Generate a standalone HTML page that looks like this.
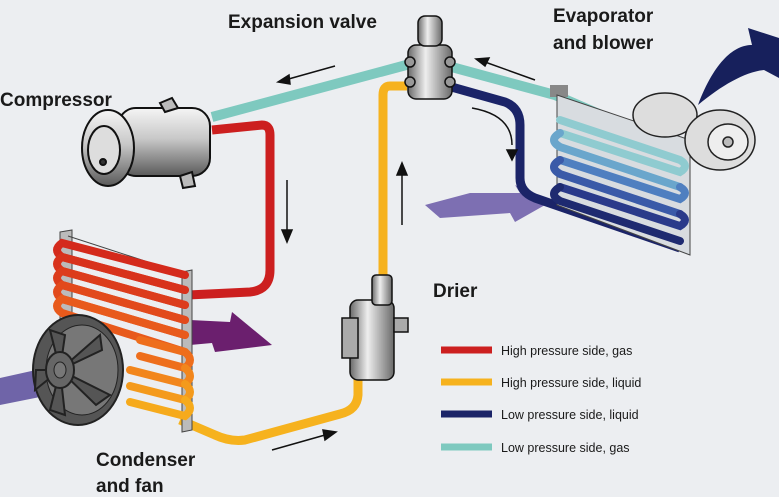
<!DOCTYPE html>
<html><head><meta charset="utf-8"><style>
html,body{margin:0;padding:0;background:#eceef1;}
svg{display:block}
text{font-family:"Liberation Sans",sans-serif;font-weight:bold;fill:#1a1a1a}
</style></head><body>
<svg width="779" height="497" viewBox="0 0 779 497" xmlns="http://www.w3.org/2000/svg">
<defs>
<linearGradient id="metal" x1="0" y1="0" x2="0" y2="1">
<stop offset="0" stop-color="#f5f5f5"/><stop offset=".45" stop-color="#c8c8c8"/><stop offset="1" stop-color="#5a5a5a"/></linearGradient>
<linearGradient id="metalh" x1="0" y1="0" x2="1" y2="0">
<stop offset="0" stop-color="#6a6a6a"/><stop offset=".4" stop-color="#eeeeee"/><stop offset="1" stop-color="#6a6a6a"/></linearGradient>
</defs>
<rect width="779" height="497" fill="#eceef1"/>

<polygon points="425,205 470,193 520,193 515,185 545,205 515,222 510,213 440,218" fill="#7d6fb2"/>
<polygon points="190,320 230,322 232,312 272,345 215,352 212,343 190,345" fill="#6b1f6e"/>
<polygon points="0,378 45,368 50,395 0,405" fill="#6f64a8"/>
<path d="M698,105 C715,60 735,45 752,45 L748,28 L779,38 L779,78 L764,70 C745,72 722,85 698,105 Z" fill="#17205c"/>

<path d="M212,117 L410,64" stroke="#7ec9bf" stroke-width="10" fill="none"/>
<path d="M448,66 L555,95 L682,150" stroke="#7ec9bf" stroke-width="10" fill="none"/>
<path d="M212,130 L262,125 Q270,125 270,135 L270,270 Q270,290 250,292 L188,295" stroke="#cc1f1f" stroke-width="9" fill="none"/>
<path d="M407,86 L390,86 Q383,86 383,95 L383,280" stroke="#f6b21e" stroke-width="9" fill="none"/>
<path d="M358,368 L358,395 Q357,410 340,414 L245,440 Q230,442 215,435 L180,420" stroke="#f6b21e" stroke-width="9" fill="none"/>
<path d="M448,86 L505,102 Q520,108 520,125 L520,178 Q520,192 535,198 L680,248" stroke="#1b2468" stroke-width="9" fill="none"/>

<g>
<polygon points="60,232 72,230 72,392 60,394" fill="#bbb" stroke="#444" stroke-width="1"/>
<polygon points="182,272 192,270 192,430 182,432" fill="#bbb" stroke="#444" stroke-width="1"/>
<line x1="68" y1="236" x2="188" y2="275" stroke="#444"/>
<g fill="none" stroke-width="8" stroke-linecap="round">
<path d="M185,275 L62,243 Q52,250 62,257 L185,290" stroke="#d42a1c"/>
<path d="M185,290 L62,257 Q52,264 62,271 L185,305" stroke="#d8321c"/>
<path d="M185,305 L62,271 Q52,278 62,285 L185,320" stroke="#dc3c1c"/>
<path d="M185,320 L62,285 Q52,292 62,299 L185,335" stroke="#e24a1c"/>
<path d="M185,335 L62,299 Q52,306 62,313 L185,352" stroke="#e85a1c"/>
<path d="M185,352 L140,340 M185,352 Q195,360 185,368 L140,356" stroke="#ee6e1c"/>
<path d="M185,368 Q195,376 185,384 L130,370" stroke="#f2861c"/>
<path d="M185,384 Q195,392 185,400 L130,386" stroke="#f49a1c"/>
<path d="M185,400 Q195,408 185,416 L130,402" stroke="#f6aa1c"/>
</g>
<ellipse cx="78" cy="370" rx="45" ry="55" fill="#555" stroke="#222" stroke-width="2"/>
<ellipse cx="82" cy="370" rx="36" ry="45" fill="#777" stroke="#222"/>
<g stroke="#222" stroke-width="2" fill="#555">
<path d="M60,370 L50,330 L65,335 Z"/><path d="M60,370 L100,335 L102,350 Z"/><path d="M60,370 L110,395 L96,405 Z"/><path d="M60,370 L65,415 L50,410 Z"/><path d="M60,370 L35,390 L36,370 Z"/>
</g>
<ellipse cx="60" cy="370" rx="14" ry="18" fill="#666" stroke="#222" stroke-width="2"/>
<ellipse cx="60" cy="370" rx="6" ry="8" fill="#777" stroke="#222"/>
</g>

<g stroke="#111" stroke-width="2">
<rect x="118" y="108" width="92" height="68" rx="18" fill="url(#metal)"/>
<path d="M160,103 L172,98 L178,108 L165,112 Z" fill="#bbb"/>
<path d="M180,176 L192,172 L195,186 L183,188 Z" fill="#bbb"/>
<ellipse cx="108" cy="148" rx="26" ry="38" fill="url(#metal)"/>
<ellipse cx="104" cy="150" rx="16" ry="24" fill="#ddd"/>
<circle cx="103" cy="162" r="3" fill="#333"/>
</g>

<g stroke="#111" stroke-width="1.5">
<rect x="408" y="45" width="44" height="54" rx="8" fill="url(#metalh)"/>
<rect x="418" y="16" width="24" height="30" rx="7" fill="url(#metalh)"/>
<circle cx="410" cy="62" r="5" fill="#999"/><circle cx="450" cy="62" r="5" fill="#999"/>
<circle cx="410" cy="82" r="5" fill="#999"/><circle cx="450" cy="82" r="5" fill="#999"/>
</g>

<g stroke="#111" stroke-width="1.5">
<rect x="350" y="300" width="44" height="80" rx="8" fill="url(#metalh)"/>
<rect x="372" y="275" width="20" height="30" rx="4" fill="url(#metalh)"/>
<rect x="342" y="318" width="16" height="40" fill="#aaa"/>
<rect x="394" y="318" width="14" height="14" fill="#aaa"/>
</g>

<g>
<rect x="550" y="85" width="18" height="12" fill="#888"/>
<polygon points="557,95 690,140 690,255 557,205" fill="#d8dce0" stroke="#444"/>
<g fill="none" stroke-width="8" stroke-linecap="round">
<path d="M560,120 L680,160 Q690,166 680,172 L560,133" stroke="#8fcbd0"/>
<path d="M560,133 Q548,140 560,147 L680,187" stroke="#6aa6cc"/>
<path d="M680,187 Q690,193 680,199 L560,160" stroke="#4f7fc0"/>
<path d="M560,160 Q548,167 560,174 L680,214" stroke="#3a5aa8"/>
<path d="M680,214 Q690,220 680,226 L560,187" stroke="#2a3a8a"/>
<path d="M560,187 Q548,194 560,201 L680,241" stroke="#1e2a70"/>
</g>
<g stroke="#222" stroke-width="1.5" fill="#ddd">
<ellipse cx="665" cy="115" rx="32" ry="22"/>
<ellipse cx="720" cy="140" rx="35" ry="30"/>
<ellipse cx="728" cy="142" rx="20" ry="18" fill="#eee"/>
<circle cx="728" cy="142" r="5" fill="#bbb"/>
</g>
</g>

<g stroke="#111" stroke-width="1.5" fill="#111">
<line x1="335" y1="66" x2="285" y2="80"/><polygon points="278,82 289,75 290,84"/>
<line x1="535" y1="80" x2="485" y2="62"/><polygon points="476,59 489,58 485,66"/>
<path d="M472,108 Q512,115 512,145" fill="none"/><polygon points="507,150 517,150 512,160"/>
<line x1="287" y1="180" x2="287" y2="232"/><polygon points="282,230 292,230 287,242"/>
<line x1="402" y1="225" x2="402" y2="172"/><polygon points="397,175 407,175 402,163"/>
<line x1="272" y1="450" x2="325" y2="435"/><polygon points="336,432 323,430 325,440"/>
</g>

<g stroke-width="7">
<line x1="441" y1="350" x2="492" y2="350" stroke="#cc1f1f"/>
<line x1="441" y1="382" x2="492" y2="382" stroke="#f6b21e"/>
<line x1="441" y1="414" x2="492" y2="414" stroke="#1b2468"/>
<line x1="441" y1="447" x2="492" y2="447" stroke="#7ec9bf"/>
</g>
<g font-size="12.5">
<text x="501" y="355" style="font-weight:normal">High pressure side, gas</text>
<text x="501" y="387" style="font-weight:normal">High pressure side, liquid</text>
<text x="501" y="419" style="font-weight:normal">Low pressure side, liquid</text>
<text x="501" y="452" style="font-weight:normal">Low pressure side, gas</text>
</g>

<g font-size="19">
<text x="228" y="28">Expansion valve</text>
<text x="553" y="22">Evaporator</text>
<text x="553" y="49">and blower</text>
<text x="0" y="106">Compressor</text>
<text x="433" y="297">Drier</text>
<text x="96" y="466">Condenser</text>
<text x="96" y="492">and fan</text>
</g>
</svg>
</body></html>
